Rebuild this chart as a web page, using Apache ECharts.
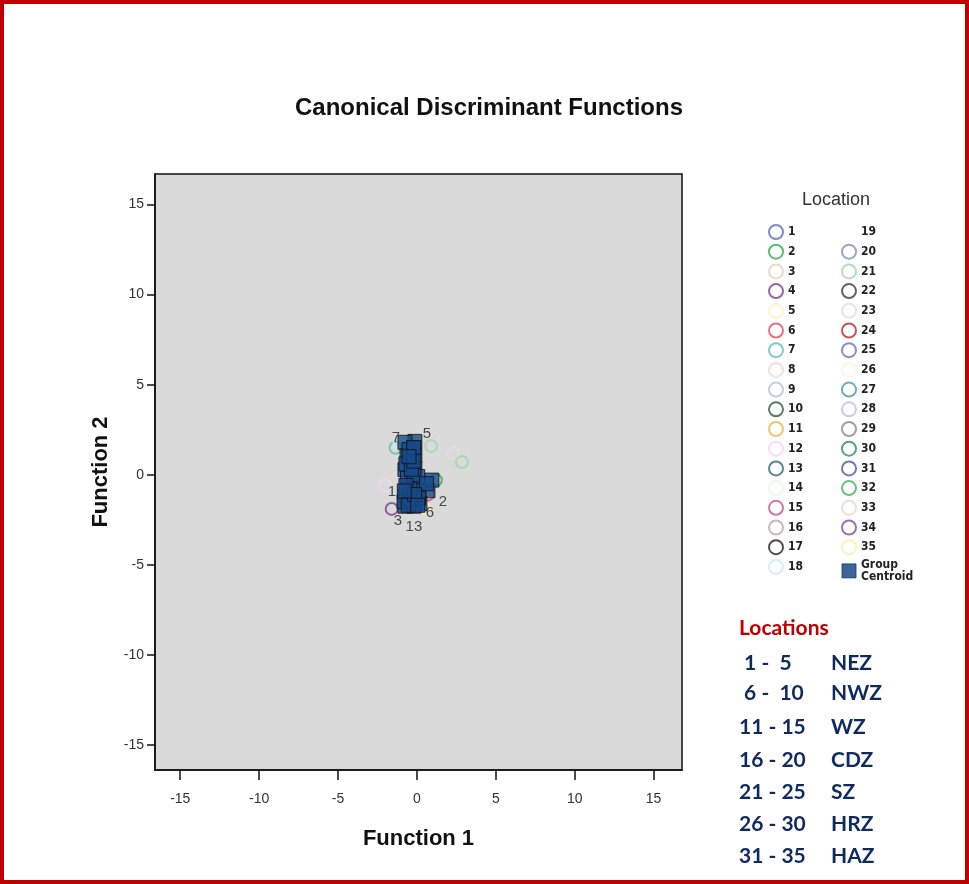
<!DOCTYPE html>
<html>
<head>
<meta charset="utf-8">
<script src="https://cdn.jsdelivr.net/npm/echarts@6/dist/echarts.min.js"></script>
<style>
  html, body { margin: 0; padding: 0; background: #fff; }
  #main { width: 969px; height: 884px; }
</style>
</head>
<body>
<div id="main"></div>
<script>
// locations 1..35
const locations = ['1','2','3','4','5','6','7','8','9','10','11','12','13','14','15','16','17','18',
  '19','20','21','22','23','24','25','26','27','28','29','30','31','32','33','34','35'];

// group centroids (Function 1, Function 2)
const centroidF1 = [-0.76, 0.70, -0.76, -0.82, -0.13, 0.19, -0.76, -0.63, -0.13, -0.76,
  -0.13, 0.95, -0.19, -0.25, 0.13, -0.38, -0.50, -0.30, -0.60, 0.05,
  -0.70, -0.20, 0.10, -0.45, -0.55, -0.20, -0.20, -0.70, -0.35, -0.20,
  -0.50, 0.60, -0.15, -0.80, 0.05];
const centroidF2 = [-1.17, -0.89, -1.75, -1.50, 1.85, -1.61, 1.80, 1.06, 1.06, 0.28,
  0.33, -0.30, -1.75, -0.44, -0.89, -1.40, 1.40, 0.70, -0.20, -0.10,
  0.60, 1.50, -1.30, -0.80, -1.70, 0.00, 1.50, -0.60, 0.30, 0.75,
  1.00, -0.50, -1.10, -0.90, -1.70];

// individual cases that are visible outside the centroid block
const caseF1  = [2.85, 2.30, -1.35, -1.10, 0.90, 1.20, 0.70, -1.60, 0.45, -2.00];
const caseF2  = [0.70, 1.20, 1.50, 1.75, 1.60, -0.30, -1.10, -1.90, -1.85, -0.60];
const caseLoc = ['21', '8', '7', '18', '21', '2', '6', '4', '35', '12'];

const tickValues = [-15, -10, -5, 0, 5, 10, 15];

const zoneRanges = [' 1 -  5', ' 6 -  10', '11 - 15', '16 - 20', '21 - 25', '26 - 30', '31 - 35'];
const zoneNames = ['NEZ', 'NWZ', 'WZ', 'CDZ', 'SZ', 'HRZ', 'HAZ'];

// SPSS-like marker colours, one per location
const palette = ['#5a6fb5', '#3aa655', '#e2d4b4', '#7d3c8c', '#fbf6c2', '#e0505a', '#5fbfb5', '#e8dcd8',
  '#b0c4dc', '#2e5a3a', '#e8b84a', '#f2d8ea', '#2f6a72', '#e6f8e6', '#c05a8a', '#b8a8b0',
  '#222222', '#c8ecea', '#ffffff', '#8890b0', '#9cd8a8', '#3c3c3c', '#d8e0ec', '#b82a30',
  '#6670d0', '#fdf6ea', '#4f9ab0', '#cbb8dc', '#888888', '#2f8a6a', '#4a5aa8', '#4aac64',
  '#ecd8c4', '#8a4a9c', '#f6f4a8'];

const centroidColor = '#174a8b';
const labelOffsets = { '1': [-13, -4], '2': [15, 11], '3': [-7, 15], '5': [12, -8],
  '6': [10, 9], '7': [-9, -4], '13': [0, 21] };

const chart = echarts.init(document.getElementById('main'));

const series = locations.map(function (loc, i) {
  const pts = [];
  caseLoc.forEach(function (l, k) { if (l === loc) pts.push([caseF1[k], caseF2[k]]); });
  return {
    name: loc, type: 'scatter', data: pts, symbol: 'circle', symbolSize: 12, z: 2,
    itemStyle: { color: 'rgba(0,0,0,0)', borderColor: palette[i], borderWidth: 2 },
    emphasis: { disabled: true }
  };
});

series.push({
  name: 'Group Centroid', type: 'scatter', symbol: 'rect', symbolSize: 14, z: 5,
  itemStyle: { color: centroidColor, borderColor: '#111', borderWidth: 1 },
  emphasis: { disabled: true },
  data: locations.map(function (loc, i) {
    const d = { value: [centroidF1[i], centroidF2[i]], name: loc };
    if (labelOffsets[loc]) {
      d.label = { show: true, position: 'inside', offset: labelOffsets[loc], formatter: loc,
        color: '#222', fontSize: 15, fontFamily: 'Liberation Sans' };
    }
    return d;
  })
});

function legendItems(list) {
  return list.map(function (n) {
    if (n === 'Group Centroid') {
      return { name: n, icon: 'rect', itemStyle: { color: '#0d3f7f', borderColor: '#0d3f7f', borderWidth: 1 } };
    }
    const i = locations.indexOf(n);
    return { name: n, icon: 'circle',
      itemStyle: { color: 'rgba(0,0,0,0)', borderColor: palette[i], borderWidth: 2 } };
  });
}

const legendBase = {
  orient: 'vertical', itemWidth: 14, itemHeight: 14, itemGap: 3.7, selectedMode: false,
  textStyle: { color: '#222', fontSize: 12, fontWeight: 'bold',
    fontFamily: "'DejaVu Sans Condensed', 'Liberation Sans', sans-serif", lineHeight: 12 },
  formatter: function (n) { return n === 'Group Centroid' ? 'Group\nCentroid' : n; }
};

const texts = [
  { type: 'text', left: 739, top: 618,
    style: { text: 'Locations', fill: '#c00000', font: 'bold 21px Lato' } }
];
zoneRanges.forEach(function (r, i) {
  const y = [663, 693, 727, 760, 792, 824, 856][i];
  texts.push({ type: 'text', x: 739, y: y,
    style: { text: r, fill: '#0e2a5e', font: 'bold 21px Lato', verticalAlign: 'middle' } });
  texts.push({ type: 'text', x: 831, y: y,
    style: { text: zoneNames[i], fill: '#0e2a5e', font: 'bold 21px Lato', verticalAlign: 'middle' } });
});

chart.setOption({
  animation: false,
  backgroundColor: '#fff',
  title: {
    text: 'Canonical Discriminant Functions', left: 484, top: 91, textAlign: 'center',
    textStyle: { fontSize: 24, fontWeight: 'bold', color: '#111', fontFamily: 'Liberation Sans' }
  },
  grid: {
    left: 155, top: 174, width: 527, height: 596, show: true,
    backgroundColor: '#dadada', borderColor: '#111', borderWidth: 1.5
  },
  xAxis: {
    type: 'value', min: -16.6, max: 16.8,
    name: 'Function 1', nameLocation: 'middle', nameGap: 58,
    nameTextStyle: { fontSize: 22, fontWeight: 'bold', color: '#111', fontFamily: 'Liberation Sans' },
    axisLine: { onZero: false, lineStyle: { color: '#111', width: 1.5 } },
    axisTick: { customValues: tickValues, length: 10, lineStyle: { color: '#111', width: 1.5 } },
    axisLabel: { customValues: tickValues, margin: 22, fontSize: 14, color: '#333', fontFamily: 'Liberation Sans' },
    splitLine: { show: false }
  },
  yAxis: {
    type: 'value', min: -16.4, max: 16.7,
    name: 'Function 2', nameLocation: 'middle', nameGap: 43, nameRotate: 90,
    nameTextStyle: { fontSize: 22, fontWeight: 'bold', color: '#111', fontFamily: 'Liberation Sans' },
    axisLine: { onZero: false, lineStyle: { color: '#111', width: 1.5 } },
    axisTick: { customValues: tickValues, length: 8, lineStyle: { color: '#111', width: 1.5 } },
    axisLabel: { customValues: tickValues, margin: 11, fontSize: 14, color: '#333', fontFamily: 'Liberation Sans' },
    splitLine: { show: false }
  },
  legend: [
    Object.assign({}, legendBase, { left: 763, top: 219, data: legendItems(locations.slice(0, 18)) }),
    Object.assign({}, legendBase, { left: 836, top: 219, data: legendItems(locations.slice(18).concat(['Group Centroid'])) })
  ],
  graphic: [
    { type: 'rect', shape: { x: 2, y: 2, width: 965, height: 880 }, silent: true,
      style: { fill: 'none', stroke: '#c00000', lineWidth: 4 } },
    { type: 'text', x: 836, y: 200,
      style: { text: 'Location', fill: '#333', font: '18px Liberation Sans', align: 'center', verticalAlign: 'middle' } }
  ].concat(texts),
  series: series
});
</script>
</body>
</html>
